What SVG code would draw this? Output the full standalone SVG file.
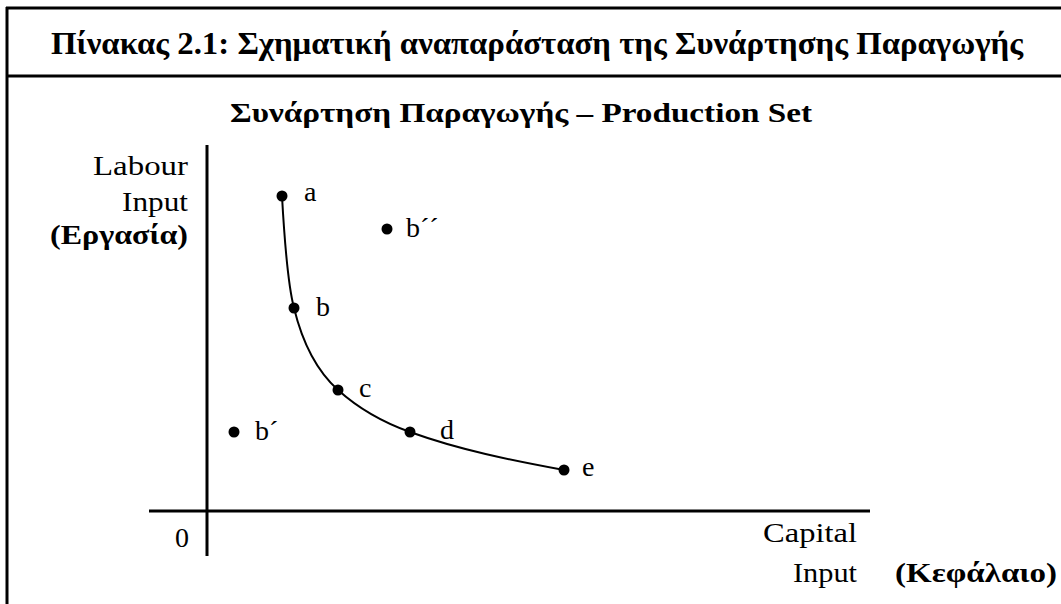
<svg xmlns="http://www.w3.org/2000/svg" width="1061" height="604" viewBox="0 0 1061 604">
<style>
.t{font-family:"Liberation Serif","Times New Roman",serif;fill:#000}
.b{font-weight:bold}
.lbl{font-size:28px}
.ln{stroke:#000;fill:none}
.pt{fill:#000}
</style>
<rect width="1061" height="604" fill="#fff"/>
<g id="frame">
<line class="ln" x1="6" y1="8" x2="1061" y2="8" stroke-width="3"/>
<line class="ln" x1="6" y1="76" x2="1061" y2="76" stroke-width="3"/>
<line class="ln" x1="7" y1="7" x2="7" y2="604" stroke-width="3"/>
<text class="t b" x="51" y="54" font-size="32" textLength="972" lengthAdjust="spacingAndGlyphs">Πίνακας 2.1: Σχηματική αναπαράσταση της Συνάρτησης Παραγωγής</text>
</g>
<g id="subtitle">
<text class="t b" x="230" y="122" font-size="27" textLength="582" lengthAdjust="spacingAndGlyphs">Συνάρτηση Παραγωγής – Production Set</text>
</g>
<g id="axes">
<line class="ln" x1="207" y1="145" x2="207" y2="556" stroke-width="3"/>
<line class="ln" x1="149" y1="511" x2="870" y2="511" stroke-width="3"/>
<text class="t lbl" x="93" y="175" textLength="95" lengthAdjust="spacingAndGlyphs">Labour</text>
<text class="t lbl" x="122" y="211" textLength="66" lengthAdjust="spacingAndGlyphs">Input</text>
<text class="t lbl b" x="50" y="244" textLength="138" lengthAdjust="spacingAndGlyphs">(Εργασία)</text>
<text class="t lbl" x="182" y="547" text-anchor="middle">0</text>
<text class="t lbl" x="763" y="542" textLength="94" lengthAdjust="spacingAndGlyphs">Capital</text>
<text class="t lbl" x="793" y="582" textLength="64" lengthAdjust="spacingAndGlyphs">Input</text>
<text class="t lbl b" x="895" y="582" textLength="162" lengthAdjust="spacingAndGlyphs">(Κεφάλαιο)</text>
</g>
<g id="connectors">
<path class="ln" stroke-width="2" d="M282,196 C285,250 288,285 294,308 C303,345 318,372 338,390 C358,408 382,422 410,432 C460,450 510,460 564,470"/>
</g>
<g id="node-a"><circle class="pt" cx="282" cy="196" r="5.5"/><text class="t lbl" x="304" y="201">a</text></g>
<g id="node-b"><circle class="pt" cx="294" cy="308" r="5.5"/><text class="t lbl" x="316" y="316">b</text></g>
<g id="node-c"><circle class="pt" cx="338" cy="390" r="5.5"/><text class="t lbl" x="359" y="397">c</text></g>
<g id="node-d"><circle class="pt" cx="410" cy="432" r="5.5"/><text class="t lbl" x="440" y="439">d</text></g>
<g id="node-e"><circle class="pt" cx="564" cy="470" r="5.5"/><text class="t lbl" x="582" y="476">e</text></g>
<g id="node-b2"><circle class="pt" cx="387" cy="229" r="5.5"/><text class="t lbl" x="406" y="237">b´´</text></g>
<g id="node-b1"><circle class="pt" cx="234" cy="432" r="5.5"/><text class="t lbl" x="255" y="440">b´</text></g>
</svg>
